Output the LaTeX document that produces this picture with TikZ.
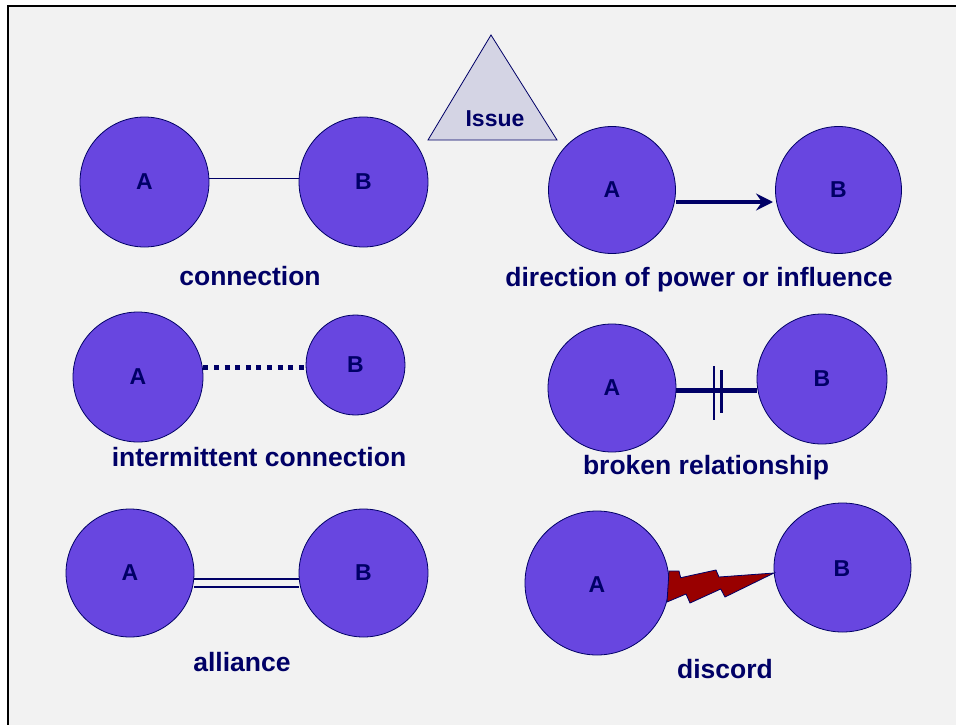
\documentclass[tikz,border=0pt]{standalone}
\usepackage{fontspec}
\setmainfont{Liberation Sans}
\usetikzlibrary{shapes.geometric,arrows.meta}
\definecolor{navy}{RGB}{0,0,102}
\definecolor{actor}{RGB}{104,70,224}
\definecolor{issuefill}{RGB}{212,212,228}
\definecolor{panel}{RGB}{242,242,242}
\definecolor{bolt}{RGB}{153,0,0}
\begin{document}
\begin{tikzpicture}[x=1pt,y=-1pt,
  party/.style={ellipse,fill=actor,draw=navy,line width=0.8pt,inner sep=0pt,
    font=\fontsize{23}{25}\selectfont\bfseries,text=navy},
  letter/.style={text=navy,font=\fontsize{23}{25}\selectfont\bfseries,inner sep=0pt},
  caption/.style={font=\fontsize{26.5}{30}\selectfont\bfseries,text=navy,inner sep=0pt,anchor=base},
  tie/.style={draw=navy,line width=1pt}]
\useasboundingbox (0,0) rectangle (956,725);
\clip (0,0) rectangle (956,725);
\fill[white] (0,0) rectangle (956,725);
\draw[fill=panel,line width=2pt] (8,6) rectangle (970,740);

% issue triangle
\draw[fill=issuefill,draw=navy,line width=0.8pt] (491,35) -- (557,140) -- (428,140) -- cycle;
\node[letter] (issue) at (495,119) {Issue};

% connection
\node[party,minimum width=129pt,minimum height=130pt] (a1) at (144.5,182) {A};
\node[party,minimum width=129pt,minimum height=130pt] (b1) at (363.5,182) {B};
\draw[tie] (a1.east |- 0,178) -- (b1.west |- 0,178);
\node[caption] (l1) at (250,285) {connection};

% direction of power or influence
\node[party,minimum width=127pt,minimum height=127pt] (a2) at (612,190) {A};
\node[party,minimum width=126pt,minimum height=127pt] (b2) at (838.5,190) {B};
\draw[draw=navy,line width=4pt,-{Stealth[length=17pt,width=17pt,inset=6pt]}] (a2.east |- 0,202) -- (773,202) coordinate (tip);
\node[caption] (l2) at (699,286) {direction of power or influence};

% intermittent connection
\node[party,minimum width=130pt,minimum height=130pt] (a3) at (138,377) {A};
\node[party,minimum width=99pt,minimum height=100pt] (b3) at (355.5,365) {B};
\draw[draw=navy,line width=5pt,dash pattern=on 5pt off 5.6pt] (a3.east |- 0,367) -- (b3.west |- 0,367);
\node[caption] (l3) at (259,466) {intermittent connection};

% broken relationship
\node[party,minimum width=128pt,minimum height=128pt] (a4) at (612,388) {A};
\node[party,minimum width=130pt,minimum height=130pt] (b4) at (822,379) {B};
\draw[draw=navy,line width=5pt] (a4.east |- 0,390) -- (b4.west |- 0,390);
\draw[draw=navy,line width=2.2pt] (714,366) -- (714,420);
\draw[draw=navy,line width=2.2pt] (721.5,370) -- (721.5,413);
\node[caption] (l4) at (706,474) {broken relationship};

% alliance
\node[party,minimum width=128pt,minimum height=128pt] (a5) at (130,573) {A};
\node[party,minimum width=129pt,minimum height=128pt] (b5) at (363.5,573) {B};
\draw[tie,line width=1.5pt] (a5.east |- 0,579) -- (b5.west |- 0,579);
\draw[tie,line width=1.5pt] (a5.east |- 0,587) -- (b5.west |- 0,587);
\node[caption] (l5) at (242,671) {alliance};

% discord
\node[party,minimum width=144pt,minimum height=144pt] (a6) at (597,583) {};
\node[letter] (a6t) at (597,585) {A};
\node[party,minimum width=137pt,minimum height=129pt] (b6) at (842.5,567.5) {};
\node[letter] (b6t) at (842,569) {B};
\draw[fill=bolt,draw=navy,line width=0.8pt,line join=miter]
  (669,571) -- (679,571) -- (680.7,577.7) -- (716,570) -- (719,577) -- (774,573)
  -- (725,597) -- (720.7,589) -- (690,603) -- (686,594) -- (667,602) -- cycle;
\node[caption] (l6) at (725,678) {discord};
\end{tikzpicture}
\end{document}
